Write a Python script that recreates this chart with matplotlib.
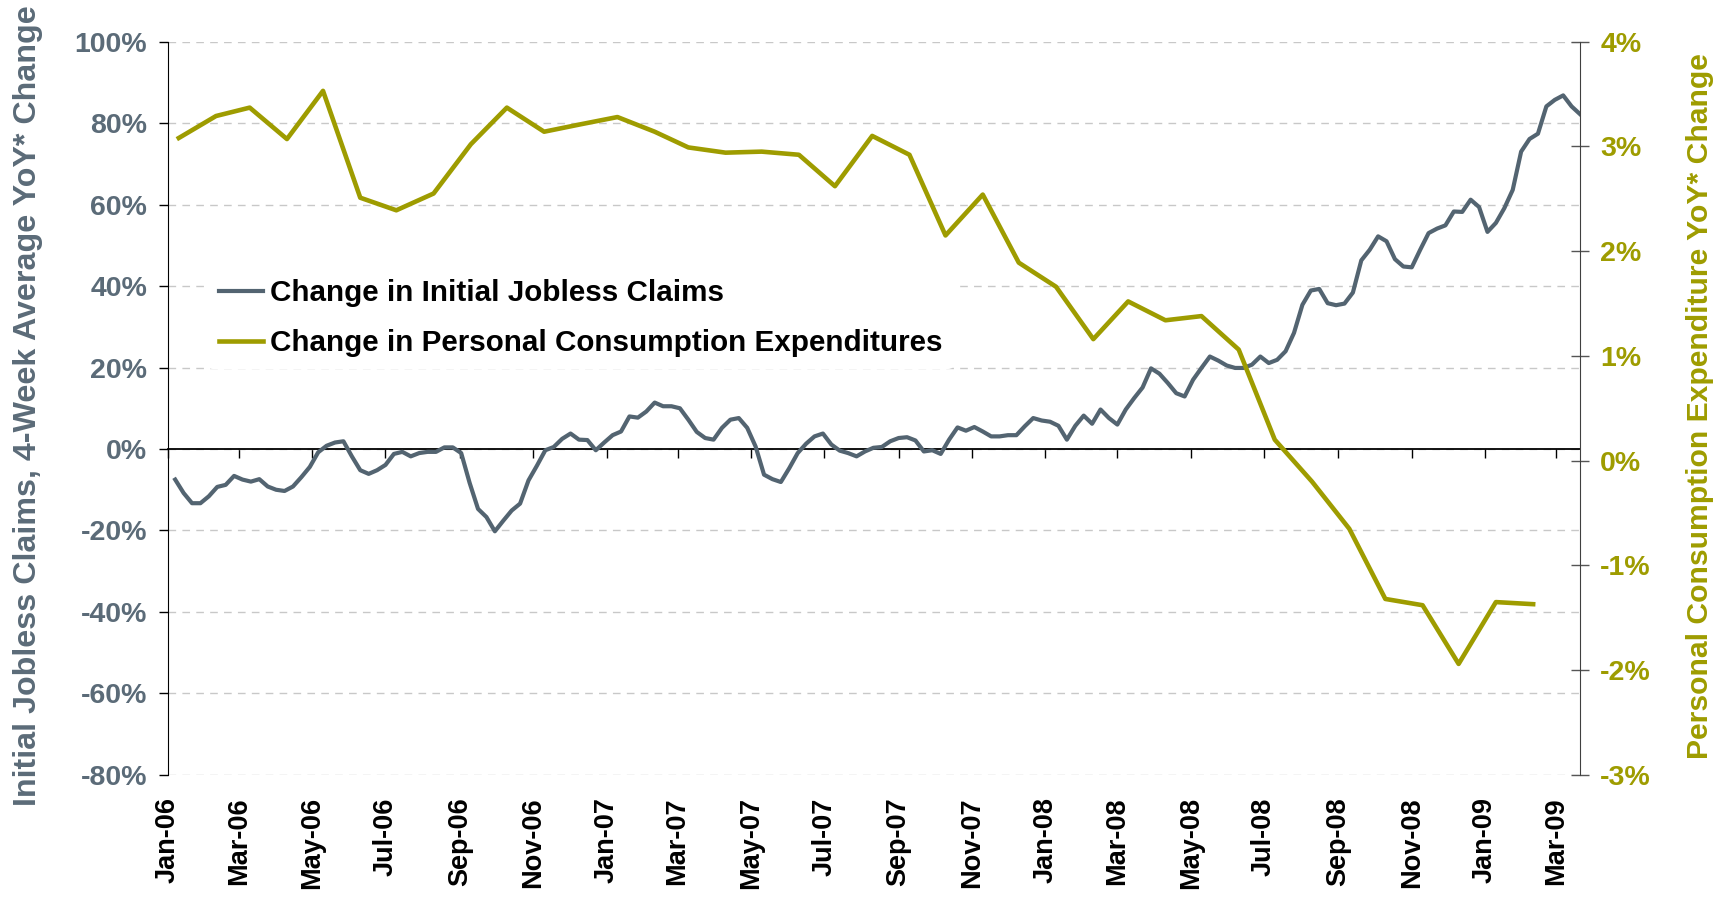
import pandas as pd
import matplotlib.pyplot as plt
import matplotlib.dates as mdates
from matplotlib.ticker import FuncFormatter, MultipleLocator

plt.rcParams['font.family'] = ['Liberation Sans', 'DejaVu Sans']
plt.rcParams['font.weight'] = 'bold'
plt.rcParams['axes.unicode_minus'] = False

# weekly initial jobless claims, 4-week average, YoY % change (weeks ending Saturday)
claims_start = '2006-01-07'
claims_change = [
    -7.5, -10.8, -13.3, -13.3, -11.6, -9.3, -8.8, -6.6, -7.5, -8.0, -7.4, -9.2, -10.0, -10.3, -9.2,
    -6.9, -4.4, -0.8, 0.8, 1.6, 1.9, -1.8, -5.2, -6.1, -5.2, -3.9, -1.2, -0.7, -1.8, -1.0,
    -0.7, -0.7, 0.4, 0.4, -1.0, -8.3, -14.7, -16.7, -20.2, -17.6, -15.1, -13.4, -7.7, -4.1, -0.3,
    0.5, 2.5, 3.8, 2.3, 2.2, -0.3, 1.6, 3.4, 4.3, 8.0, 7.7, 9.2, 11.4, 10.5, 10.5, 10.0,
    7.2, 4.2, 2.7, 2.3, 5.2, 7.2, 7.6, 5.2, 0.6, -6.3, -7.4, -8.1, -4.7, -1.0, 1.3,
    3.1, 3.8, 1.1, -0.4, -1.0, -1.8, -0.6, 0.3, 0.5, 1.9, 2.7, 2.9, 2.1, -0.6, -0.3,
    -1.2, 2.3, 5.3, 4.5, 5.4, 4.3, 3.1, 3.1, 3.4, 3.4, 5.6, 7.6, 7.0, 6.7, 5.7,
    2.3, 5.7, 8.2, 6.2, 9.7, 7.6, 6.0, 9.7, 12.5, 15.1, 19.8, 18.5, 16.2, 13.7, 12.9,
    17.0, 19.9, 22.7, 21.7, 20.5, 19.9, 19.9, 20.7, 22.7, 21.1, 21.9, 24.0, 28.5, 35.4, 38.9,
    39.3, 35.8, 35.3, 35.7, 38.4, 46.3, 48.9, 52.2, 51.0, 46.6, 44.8,
    44.6, 48.9, 53.0, 54.1, 54.9, 58.3, 58.2, 61.2, 59.4, 53.3, 55.5, 59.1, 63.6, 73.0, 76.1,
    77.4, 84.1, 85.7, 86.8, 84.1, 82.2,
]

# monthly personal consumption expenditures, YoY % change (Jan-06 .. Feb-09)
pce_start = '2006-01'
pce_change = [
    3.08, 3.29, 3.37, 3.07, 3.53, 2.51, 2.39, 2.55, 3.02, 3.37, 3.14, 3.21,
    3.28, 3.14, 2.99, 2.94, 2.95, 2.92, 2.62, 3.10, 2.92, 2.15, 2.54, 1.89,
    1.66, 1.16, 1.52, 1.34, 1.38, 1.06, 0.20, -0.20, -0.65, -1.32, -1.38, -1.94,
    -1.35, -1.37,
]

claims_label = 'Change in Initial Jobless Claims'
pce_label = 'Change in Personal Consumption Expenditures'
left_title = 'Initial Jobless Claims, 4-Week Average YoY* Change'
right_title = 'Personal Consumption Expenditure YoY* Change'

BLUE = '#536471'
BLUE_TXT = '#5B6B78'
OLIVE = '#9E9C00'

claims_dates = pd.date_range(claims_start, periods=len(claims_change), freq='W-SAT')
pce_dates = pd.date_range(pce_start, periods=len(pce_change), freq='MS') + pd.Timedelta(days=9)

fig = plt.figure(figsize=(17.3, 8.99), dpi=100)
ax = fig.add_axes([0.0971, 0.138, 0.8162, 0.8157])
ax2 = ax.twinx()

ax.plot(claims_dates, claims_change, color=BLUE, lw=3.0, label=claims_label, zorder=3)
ax2.plot(pce_dates, pce_change, color=OLIVE, lw=3.3, label=pce_label)

# left axis
ax.set_ylim(-80, 100)
ax.yaxis.set_major_locator(MultipleLocator(20))
ax.yaxis.set_major_formatter(FuncFormatter(lambda v, _: f'{v:.0f}%'))
ax.set_axisbelow(True)
ax.yaxis.grid(True, color='#C8C8C8', lw=1.0, linestyle=(0, (5.5, 4.5)))
ax.tick_params(axis='y', direction='out', length=6.5, width=1, color='black',
               labelcolor=BLUE_TXT, labelsize=20.5, pad=8.6)

# x axis: ticks sit on the zero line, labels at the bottom (through the twin)
ax.set_xlim(pd.Timestamp('2006-01-01'), claims_dates[-1])
ax.xaxis.set_major_locator(mdates.MonthLocator(bymonth=range(1, 13, 2)))
ax.xaxis.set_major_formatter(mdates.DateFormatter('%b-%y'))
ax.spines['bottom'].set_position(('data', 0))
ax.spines['bottom'].set_linewidth(1.3)
ax.spines['top'].set_visible(False)
ax.spines['right'].set_visible(False)
ax.tick_params(axis='x', direction='out', length=6.5, width=1, labelbottom=False)

# right axis
ax2.set_ylim(-3, 4)
ax2.yaxis.set_major_locator(MultipleLocator(1))
ax2.yaxis.set_major_formatter(FuncFormatter(lambda v, _: f'{v:.0f}%'))
for side in ['top', 'left', 'bottom']:
    ax2.spines[side].set_visible(False)
ax2.spines['right'].set_color('#404040')
ax2.tick_params(axis='y', direction='inout', length=13, width=1, color='#555555',
                labelcolor=OLIVE, labelsize=20.5, pad=8)
ax2.xaxis.set_visible(True)
ax2.tick_params(axis='x', length=0, labelbottom=True, labelrotation=90,
                labelsize=19.5, pad=16, labelcolor='black')

h1, l1 = ax.get_legend_handles_labels()
h2, l2 = ax2.get_legend_handles_labels()
leg = ax2.legend(h1 + h2, l1 + l2, loc='center left', bbox_to_anchor=(0.0275, 0.623),
                 fontsize=21.3, handlelength=1.5, handletextpad=0.22, labelspacing=0.74,
                 borderaxespad=0, borderpad=0.4, frameon=True, framealpha=1)
leg.get_frame().set_edgecolor('none')
leg.get_frame().set_facecolor('white')

fig.text(28 / 1730, 1 - 406 / 899, left_title, rotation=90, ha='center', va='center',
         fontsize=23.2, color=BLUE_TXT)
fig.text(1700 / 1730, 1 - 406 / 899, right_title, rotation=90, ha='center', va='center',
         fontsize=21.7, color=OLIVE)

fig.savefig('out.png', dpi=100)
